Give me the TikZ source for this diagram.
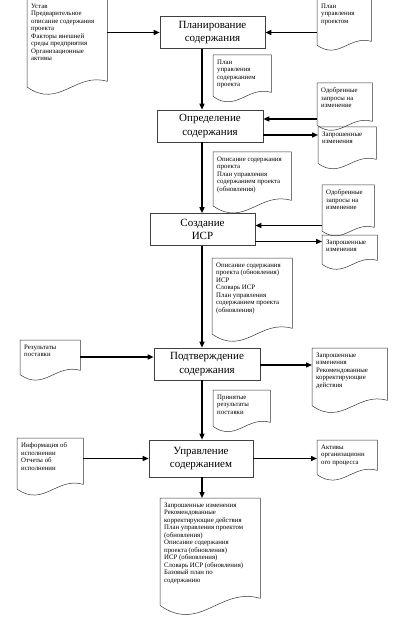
\documentclass[tikz,border=0pt]{standalone}
\usepackage{fontspec}
\setmainfont{Liberation Serif}
\usetikzlibrary{arrows.meta,calc}
\newcommand\doctxt[3]{\parbox[t][#2][t]{#1}{\raggedright #3}}

\begin{document}
\begin{tikzpicture}[x=1pt,y=-1pt,
  proc/.style={draw=black!75,line width=.6pt,minimum width=105pt,minimum height=32pt,align=center,inner sep=1pt,font=\fontsize{11}{13.5}\selectfont},
  doc/.style={anchor=north west,inner xsep=4pt,inner ysep=4.5pt,font=\fontsize{6.8}{7.5}\selectfont},
  docline/.style={line width=.5pt,draw=black!80},
  flow/.style={line width=1.4pt,-{Triangle[length=6pt,width=5pt]}}]
\useasboundingbox (0,0) rectangle (409,620);
\coordinate (spine) at (202,0);
% processes
\node[proc] (plan) at (212.5,32.5) {Планирование\\содержания};
\node[proc,minimum width=106pt] (define) at (210,126) {Определение\\содержания};
\node[proc] (wbs) at (202.5,229.5) {Создание\\ИСР};
\node[proc,minimum width=106pt] (accept) at (207,364) {Подтверждение\\содержания};
\node[proc,minimum width=104pt,minimum height=37pt] (control) at (201,458.5) {Управление\\содержанием};
% documents
\node[doc] (charter) at (27,-1) {\doctxt{72pt}{73pt}{Устав\\Предварительное\\описание содержания\\проекта\\Факторы внешней\\среды предприятия\\Организационные\\активы}};
\node[doc] (pmplan) at (317,-1) {\doctxt{46pt}{33pt}{План\\управления\\проектом}};
\node[doc] (smplan) at (213,55) {\doctxt{50pt}{28pt}{План\\управления\\содержанием\\проекта}};
\node[doc] (appr1) at (317,83) {\doctxt{47pt}{29pt}{Одобренные\\запросы на\\изменение}};
\node[doc] (req1) at (318,127) {\doctxt{50pt}{23pt}{Запрошенные\\изменения}};
\node[doc] (scope1) at (213,152) {\doctxt{70pt}{39pt}{Описание содержания\\проекта\\План управления\\содержанием проекта\\(обновления)}};
\node[doc] (appr2) at (322,185) {\doctxt{44pt}{33pt}{Одобренные\\запросы на\\изменение}};
\node[doc] (req2) at (322,235) {\doctxt{47pt}{16pt}{Запрошенные\\изменения}};
\node[doc] (scope2) at (212,258) {\doctxt{72pt}{61pt}{Описание содержания\\проекта (обновления)\\ИСР\\Словарь ИСР\\План управления\\содержанием проекта\\(обновления)}};
\node[doc] (deliv) at (20,340) {\doctxt{52pt}{21pt}{Результаты\\поставки}};
\node[doc] (req3) at (312,348) {\doctxt{67pt}{43pt}{Запрошенные\\изменения\\Рекомендованные\\корректирующие\\действия}};
\node[doc] (accres) at (213,390) {\doctxt{49pt}{23pt}{Принятые\\результаты\\поставки}};
\node[doc] (perf) at (17,438) {\doctxt{58pt}{37pt}{Информация об\\исполнении\\Отчеты об\\исполнении}};
\node[doc] (opa) at (317,440) {\doctxt{52pt}{21pt}{Активы\\организационн\\ого процесса}};
\node[doc] (final) at (160,498) {\doctxt{92pt}{91pt}{Запрошенные изменения\\Рекомендованные\\корректирующие действия\\План управления проектом\\(обновления)\\Описание содержания\\проекта (обновления)\\ИСР (обновления)\\Словарь ИСР (обновления)\\Базовый план по\\содержанию}};
\foreach \nm in {charter,pmplan,smplan,appr1,req1,scope1,appr2,req2,scope2,deliv,req3,accres,perf,opa,final}
  \draw[docline] let \p1=(\nm.south west), \p2=(\nm.south east) in
    (\nm.north west) -- (\nm.north east) -- (\p2)
    .. controls ({\x2-0.4*(\x2-\x1)},{\y2+0.12*(\x2-\x1)}) and ({\x1+0.4*(\x2-\x1)},{\y1-0.35*(\x2-\x1)}) .. (\x1,{\y1-0.07*(\x2-\x1)}) -- cycle;
% main line
\draw[flow] (plan.south -| spine) -- (define.north -| spine);
\draw[flow] (define.south -| spine) -- (wbs.north -| spine);
\draw[flow] (wbs.south -| spine) -- (accept.north -| spine);
\draw[flow] (accept.south -| spine) -- (control.north -| spine);
\draw[flow] (control.south -| spine) -- (final.north -| spine);
% inputs and outputs
\coordinate (d-in) at ([yshift=7pt]define.east);
\coordinate (d-out) at ([yshift=-9pt]define.east);
\coordinate (w-in) at ([yshift=4pt]wbs.east);
\coordinate (w-out) at ([yshift=-12pt]wbs.east);
\coordinate (a-in) at ([yshift=7pt]accept.west);
\coordinate (a-out) at ([yshift=-1pt]accept.east);
\draw[flow] (charter.east |- plan.west) -- (plan.west);
\draw[flow] (pmplan.west |- plan.east) -- (plan.east);
\draw[flow] (d-in -| appr1.west) -- (d-in);
\draw[flow] (d-out) -- (d-out -| req1.west);
\draw[flow] (w-in -| appr2.west) -- (w-in);
\draw[flow] (w-out) -- (w-out -| req2.west);
\draw[flow] (a-in -| deliv.east) -- (a-in);
\draw[flow] (a-out) -- (a-out -| req3.west);
\draw[flow] (perf.east |- control.west) -- (control.west);
\draw[flow] (control.east) -- (control.east -| opa.west);
\end{tikzpicture}
\end{document}
